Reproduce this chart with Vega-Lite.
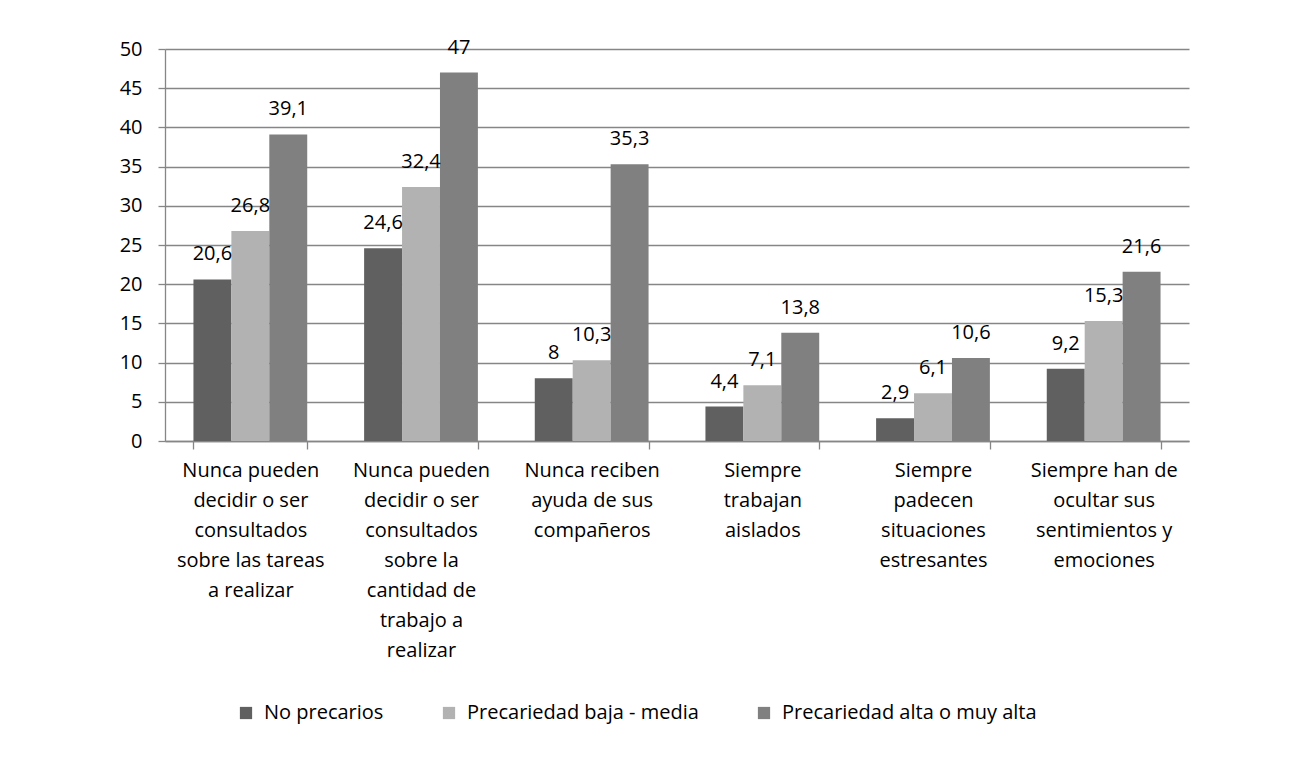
{
  "$schema": "https://vega.github.io/schema/vega-lite/v6.json",
  "width": 1024,
  "height": 392,
  "autosize": {"type": "none"},
  "padding": {"left": 165, "top": 49, "right": 101, "bottom": 323},
  "background": "white",
  "data": {
    "values": [
      {"cat": "Nunca pueden|decidir o ser|consultados|sobre las tareas|a realizar", "serie": "No precarios", "valor": 20.6},
      {"cat": "Nunca pueden|decidir o ser|consultados|sobre las tareas|a realizar", "serie": "Precariedad baja - media", "valor": 26.8},
      {"cat": "Nunca pueden|decidir o ser|consultados|sobre las tareas|a realizar", "serie": "Precariedad alta o muy alta", "valor": 39.1},
      {"cat": "Nunca pueden|decidir o ser|consultados|sobre la|cantidad de|trabajo a|realizar", "serie": "No precarios", "valor": 24.6},
      {"cat": "Nunca pueden|decidir o ser|consultados|sobre la|cantidad de|trabajo a|realizar", "serie": "Precariedad baja - media", "valor": 32.4},
      {"cat": "Nunca pueden|decidir o ser|consultados|sobre la|cantidad de|trabajo a|realizar", "serie": "Precariedad alta o muy alta", "valor": 47},
      {"cat": "Nunca reciben|ayuda de sus|compañeros", "serie": "No precarios", "valor": 8},
      {"cat": "Nunca reciben|ayuda de sus|compañeros", "serie": "Precariedad baja - media", "valor": 10.3},
      {"cat": "Nunca reciben|ayuda de sus|compañeros", "serie": "Precariedad alta o muy alta", "valor": 35.3},
      {"cat": "Siempre|trabajan|aislados", "serie": "No precarios", "valor": 4.4},
      {"cat": "Siempre|trabajan|aislados", "serie": "Precariedad baja - media", "valor": 7.1},
      {"cat": "Siempre|trabajan|aislados", "serie": "Precariedad alta o muy alta", "valor": 13.8},
      {"cat": "Siempre|padecen|situaciones|estresantes", "serie": "No precarios", "valor": 2.9},
      {"cat": "Siempre|padecen|situaciones|estresantes", "serie": "Precariedad baja - media", "valor": 6.1},
      {"cat": "Siempre|padecen|situaciones|estresantes", "serie": "Precariedad alta o muy alta", "valor": 10.6},
      {"cat": "Siempre han de|ocultar sus|sentimientos y|emociones", "serie": "No precarios", "valor": 9.2},
      {"cat": "Siempre han de|ocultar sus|sentimientos y|emociones", "serie": "Precariedad baja - media", "valor": 15.3},
      {"cat": "Siempre han de|ocultar sus|sentimientos y|emociones", "serie": "Precariedad alta o muy alta", "valor": 21.6}
    ]
  },
  "encoding": {
    "x": {
      "field": "cat",
      "type": "nominal",
      "sort": null,
      "scale": {"paddingInner": 0.3333, "paddingOuter": 0.1667},
      "axis": {
        "title": null,
        "labelAngle": 0,
        "labelExpr": "split(datum.label, '|')",
        "labelLineHeight": 30,
        "labelFontSize": 20,
        "labelPadding": 11,
        "labelBaseline": "top",
        "labelLimit": 0,
        "tickBand": "extent",
        "tickSize": 8,
        "grid": false
      }
    },
    "xOffset": {
      "field": "serie",
      "type": "nominal",
      "sort": ["No precarios", "Precariedad baja - media", "Precariedad alta o muy alta"],
      "scale": {"paddingInner": 0, "paddingOuter": 0}
    },
    "y": {
      "field": "valor",
      "type": "quantitative",
      "scale": {"domain": [0, 50], "nice": false},
      "axis": {
        "title": null,
        "values": [0, 5, 10, 15, 20, 25, 30, 35, 40, 45, 50],
        "labelFontSize": 20,
        "labelPadding": 16,
        "tickSize": 7,
        "grid": true
      }
    }
  },
  "layer": [
    {
      "mark": {"type": "bar"},
      "encoding": {
        "color": {
          "field": "serie",
          "type": "nominal",
          "sort": ["No precarios", "Precariedad baja - media", "Precariedad alta o muy alta"],
          "scale": {
            "domain": ["No precarios", "Precariedad baja - media", "Precariedad alta o muy alta"],
            "range": ["#606060", "#b2b2b2", "#808080"]
          },
          "legend": {
            "title": null,
            "orient": "none",
            "direction": "horizontal",
            "legendX": 71,
            "legendY": 654,
            "symbolType": "square",
            "symbolSize": 150,
            "symbolStrokeWidth": 0,
            "labelFontSize": 20,
            "labelOffset": 8,
            "columnPadding": 55,
            "padding": 0,
            "labelLimit": 0
          }
        }
      }
    },
    {
      "mark": {"type": "text", "baseline": "alphabetic", "dy": -19, "fontSize": 20, "color": "#000000"},
      "encoding": {
        "text": {"field": "valor", "type": "quantitative", "format": ".3~g"}
      }
    }
  ],
  "config": {
    "locale": {"number": {"decimal": ",", "thousands": ".", "grouping": [3], "currency": ["", " €"]}},
    "font": "Open Sans",
    "view": {"stroke": null},
    "axis": {
      "labelFont": "Open Sans",
      "labelColor": "#000000",
      "domainColor": "#868686",
      "domainWidth": 1.3,
      "tickColor": "#868686",
      "tickWidth": 1.3,
      "gridColor": "#868686",
      "gridWidth": 1.3
    },
    "legend": {"labelFont": "Open Sans", "labelColor": "#000000"},
    "text": {"font": "Open Sans"}
  }
}
